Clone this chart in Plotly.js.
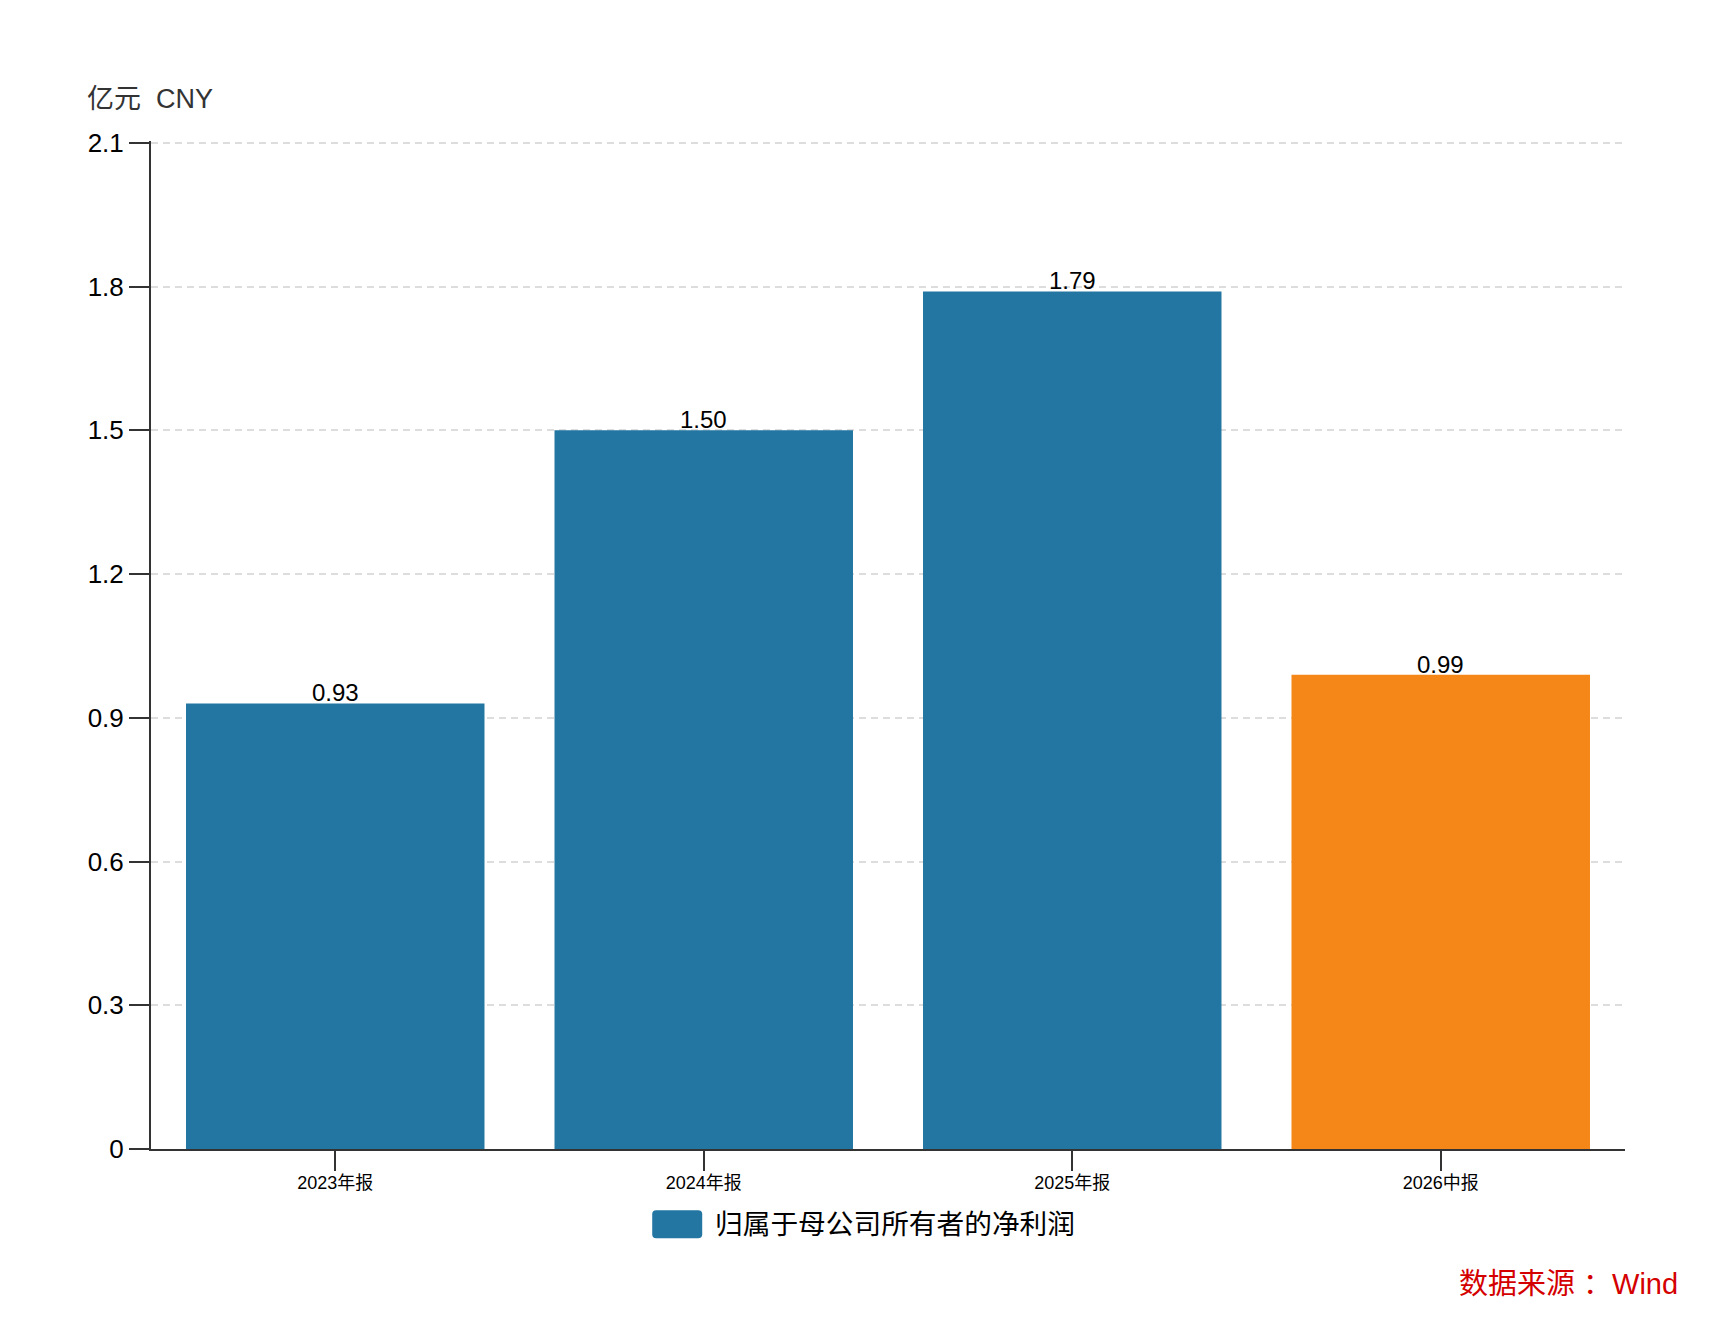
<!DOCTYPE html>
<html>
<head>
<meta charset="utf-8">
<script src="https://cdn.plot.ly/plotly-3.0.1.min.js"></script>
<style>
  html, body { margin: 0; padding: 0; background: #fff; }
  #chart { width: 1736px; height: 1334px; }
</style>
</head>
<body>
<div id="chart"></div>
<script>
  // Net profit attributable to parent, 亿元
  const periods = ["2023年报", "2024年报", "2025年报", "2026中报"];
  const netProfit = [0.93, 1.50, 1.79, 0.99];
  const barColors = ["#2376a2", "#2376a2", "#2376a2", "#f58718"];
  const yTicks = [0, 0.3, 0.6, 0.9, 1.2, 1.5, 1.8, 2.1];
  const yTickText = ["0", "0.3", "0.6", "0.9", "1.2", "1.5", "1.8", "2.1"];

  const FONT = '"Liberation Sans", Arial, "Noto Sans CJK SC", sans-serif';
  const AXIS = "#333333";
  const GRID = "#dddddd";

  const trace = {
    type: "bar",
    x: periods,
    y: netProfit,
    marker: { color: barColors },
    hoverinfo: "x+y",
    showlegend: false,
  };

  // value labels sit right on top of each bar
  const valueLabels = periods.map(function (p, i) {
    return {
      text: netProfit[i].toFixed(2),
      x: p,
      y: netProfit[i],
      xref: "x",
      yref: "y",
      yanchor: "bottom",
      yshift: -5,
      showarrow: false,
      font: { family: FONT, size: 24, color: "#000" },
    };
  });

  const layout = {
    width: 1736,
    height: 1334,
    paper_bgcolor: "#fff",
    plot_bgcolor: "#fff",
    font: { family: FONT, color: "#000" },
    // top edge a hair above 2.1 so its grid line is kept
    margin: { l: 151, r: 111, t: 141, b: 185 },
    bargap: 0.19,
    showlegend: false,
    xaxis: {
      type: "category",
      showline: true,
      linecolor: AXIS,
      linewidth: 2,
      ticks: "outside",
      ticklen: 20,
      tickwidth: 2,
      tickcolor: AXIS,
      ticklabelstandoff: -4,
      tickfont: { family: FONT, size: 18, color: "#000" },
      showgrid: false,
      zeroline: false,
    },
    yaxis: {
      range: [0, 2.104],
      tickvals: yTicks,
      ticktext: yTickText,
      showline: true,
      linecolor: AXIS,
      linewidth: 2,
      ticks: "outside",
      ticklen: 20,
      tickwidth: 2,
      tickcolor: AXIS,
      tickfont: { family: FONT, size: 26, color: "#000" },
      showgrid: true,
      gridcolor: GRID,
      gridwidth: 2,
      griddash: "7px,5px",
      zeroline: false,
    },
    shapes: [
      // legend swatch, rounded
      {
        type: "path",
        xref: "paper",
        yref: "paper",
        xsizemode: "pixel",
        ysizemode: "pixel",
        xanchor: 0.357,
        yanchor: -0.0746,
        path: "M -21 -14 L 21 -14 Q 25 -14 25 -10 L 25 10 Q 25 14 21 14 L -21 14 Q -25 14 -25 10 L -25 -10 Q -25 -14 -21 -14 Z",
        fillcolor: "#2376a2",
        line: { width: 0 },
      },
    ],
    annotations: valueLabels.concat([
      {
        text: "亿元&nbsp;&nbsp;CNY",
        xref: "paper",
        yref: "paper",
        x: -0.0448,
        y: 1.0417,
        xanchor: "left",
        yanchor: "middle",
        showarrow: false,
        font: { family: FONT, size: 27, color: "#333" },
      },
      {
        text: "归属于母公司所有者的净利润",
        xref: "paper",
        yref: "paper",
        x: 0.3813,
        y: -0.0746,
        xanchor: "left",
        yanchor: "middle",
        showarrow: false,
        font: { family: FONT, size: 27.7, color: "#000" },
      },
      {
        text: "数据来源 ：Wind",
        xref: "paper",
        yref: "paper",
        x: 1.037,
        y: -0.134,
        xanchor: "right",
        yanchor: "middle",
        showarrow: false,
        font: { family: FONT, size: 29, color: "#d40000" },
      },
    ]),
  };

  Plotly.newPlot("chart", [trace], layout, { displayModeBar: false, responsive: false });
</script>
</body>
</html>
